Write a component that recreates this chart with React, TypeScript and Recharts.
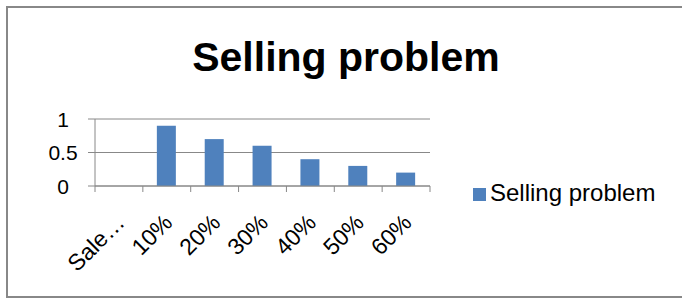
import React from 'react';
import {
  Bar, BarChart, CartesianGrid, Legend, XAxis, YAxis,
} from 'recharts';

const categories = ['Sale…', '10%', '20%', '30%', '40%', '50%', '60%'];
const sellingProblem = [null, 0.9, 0.7, 0.6, 0.4, 0.3, 0.2];
const yTicks = [0, 0.5, 1];

const data = categories.map((name, i) => ({ name, value: sellingProblem[i] }));

const FONT = '"Liberation Sans", Arial, sans-serif';
const GREY = '#888888';
const PLOT_W = 682 - 95 - 252;

const YTick = (props: any) => {
  const { x, y, payload } = props;
  return (
    <text x={x - 25} y={y} dy="0.36em" textAnchor="middle" fontSize={21} fill="#000" fontFamily={FONT}>
      {payload.value}
    </text>
  );
};

// category labels plus Excel-style tick marks between the categories
const XTick = (props: any) => {
  const { x, y, payload, index } = props;
  const half = PLOT_W / categories.length / 2;
  const ax = x + 7;
  const ay = y + 38;
  return (
    <g>
      <line x1={x - half} x2={x - half} y1={y} y2={y + 6} stroke={GREY} />
      {index === categories.length - 1 && (
        <line x1={x + half} x2={x + half} y1={y} y2={y + 6} stroke={GREY} />
      )}
      <text
        x={ax}
        y={ay}
        textAnchor="end"
        fontSize={23}
        fill="#000"
        fontFamily={FONT}
        transform={`rotate(-45, ${ax}, ${ay})`}
      >
        {payload.value}
      </text>
    </g>
  );
};

const App = () => (
  <div style={{
    position: 'absolute', left: 0, top: 0, width: 682, height: 298, overflow: 'hidden', background: '#fff', fontFamily: FONT,
  }}
  >
    <div style={{
      position: 'absolute', left: 6, top: 6, width: 700, height: 288, border: `2px solid ${GREY}`,
    }}
    />
    <div style={{
      position: 'absolute', left: 0, top: 37, width: 692, textAlign: 'center', fontSize: 41, lineHeight: '41px', fontWeight: 'bold', color: '#000',
    }}
    >
      Selling problem
    </div>
    <div style={{ position: 'absolute', left: 0, top: 0 }}>
      <BarChart
        width={682}
        height={298}
        data={data}
        margin={{
          top: 119, right: 252, bottom: 52, left: 0,
        }}
      >
        <CartesianGrid vertical={false} stroke={GREY} />
        <XAxis
          dataKey="name"
          height={60}
          interval={0}
          tickLine={false}
          tickSize={0}
          tickMargin={0}
          axisLine={{ stroke: GREY }}
          tick={<XTick />}
        />
        <YAxis
          width={95}
          domain={[0, 1]}
          ticks={yTicks}
          tickSize={7}
          tickMargin={0}
          axisLine={{ stroke: GREY }}
          tickLine={{ stroke: GREY }}
          tick={<YTick />}
        />
        <Legend
          layout="vertical"
          align="center"
          verticalAlign="middle"
          iconType="square"
          iconSize={13}
          wrapperStyle={{
            position: 'absolute', left: 473, top: 179, width: 'auto', fontSize: 24,
          }}
          formatter={(v) => <span style={{ color: '#000' }}>{v}</span>}
        />
        <Bar dataKey="value" name="Selling problem" fill="#4F81BD" barSize={19} isAnimationActive={false} />
      </BarChart>
    </div>
  </div>
);

export default App;
